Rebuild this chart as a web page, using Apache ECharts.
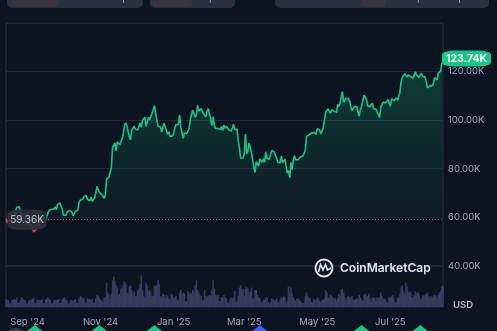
<!DOCTYPE html>
<html><head><meta charset="utf-8">
<script src="https://cdn.jsdelivr.net/npm/echarts@6/dist/echarts.min.js"></script>
<style>html,body{margin:0;padding:0;background:#0d1421;}#c{width:497px;height:331px;}</style>
</head><body><div id="c"></div>
<script>
// ---- data (BTC/USD, daily, 2024-08-14 .. 2025-08-14), values in thousands USD ----
const startDate = [2024, 7, 14]; // UTC y, m(0-based), d
const price2024Aug = [59.36,57.6,58.9,59.5,58.4,59.5,59.0,61.2,60.4,64.1,64.2,64.3,62.9,59.5,59.0,59.4,59.1,58.9];
const price2024Sep = [57.3,59.1,57.5,58.0,56.2,53.9,54.2,54.9,57.0,57.6,57.3,58.1,60.5,60.0,59.2,58.2,60.3,61.7,62.9,63.2,63.3,63.6,63.3,64.3,63.1,65.2,65.8,65.9,65.6,63.3];
const price2024Oct = [60.8,60.6,60.8,62.1,62.1,62.8,62.2,62.1,60.6,60.3,62.5,63.2,62.9,66.1,67.0,67.6,67.4,68.4,68.4,69.0,67.4,67.4,66.7,68.2,66.6,67.0,67.9,69.9,72.7,72.3,70.2];
const price2024Nov = [69.5,69.4,68.7,67.8,69.4,75.6,76.0,76.5,76.7,80.5,88.7,87.9,90.6,87.3,91.1,90.6,89.8,90.5,92.3,94.3,98.0,98.9,97.7,98.0,93.1,91.9,95.9,95.6,97.5,96.4];
const price2024Dec = [97.2,95.9,96.0,98.8,97.0,99.9,99.9,101.2,97.4,96.7,101.2,100.0,101.5,101.4,104.3,106.0,106.1,100.0,97.5,97.8,97.2,95.1,94.7,98.7,99.4,95.8,94.2,95.2,93.4,92.6,93.4];
const price2025Jan = [94.4,96.9,98.1,98.2,98.3,102.1,96.9,95.0,92.5,94.7,94.6,94.5,94.5,96.5,100.5,99.8,104.1,104.4,101.1,102.0,106.1,103.7,104.0,104.8,104.7,102.6,102.1,101.3,103.7,104.7,102.4];
const price2025Feb = [100.7,97.7,101.4,97.9,96.6,96.6,96.6,96.5,96.1,97.4,95.7,97.9,96.6,97.5,97.6,96.1,95.8,95.5,96.6,98.3,96.1,96.6,96.3,91.6,88.7,84.3,84.7,84.4];
const price2025Mar = [86.0,94.3,86.1,87.2,90.6,89.9,86.7,86.2,80.6,78.5,82.9,83.7,81.1,84.0,84.3,82.6,84.1,82.7,86.9,84.2,84.0,83.8,86.1,87.5,87.5,86.9,87.2,84.4,82.6,82.3,82.5];
const price2025Apr = [85.2,82.5,83.1,83.8,83.5,78.2,79.2,76.3,82.6,79.6,83.4,85.3,83.7,84.5,83.7,84.0,84.9,84.4,85.1,85.2,87.5,93.4,93.7,93.9,94.7,94.6,93.8,95.0,94.3,94.2];
const price2025May = [96.5,96.9,95.9,94.3,94.7,96.8,97.0,103.2,102.9,104.6,104.1,102.8,104.2,103.5,103.7,103.5,103.2,106.5,105.6,106.8,109.7,111.7,107.3,107.8,109.0,109.4,108.9,107.8,105.6,103.9,104.6];
const price2025Jun = [105.7,105.8,105.4,104.7,101.6,104.4,105.6,105.8,110.3,110.3,108.7,105.9,106.0,105.5,105.6,107.0,104.6,104.9,104.6,103.3,102.3,101.0,105.4,105.9,107.3,106.9,107.1,107.4,108.4,107.1];
const price2025Jul = [105.7,108.8,109.6,108.0,108.2,109.2,108.3,108.9,111.3,115.9,117.5,117.4,119.1,119.8,117.7,118.6,119.2,117.9,117.9,117.3,117.4,119.9,118.5,118.3,117.6,117.9,119.4,118.0,117.9,117.8,115.8];
const price2025Aug = [113.3,112.5,114.2,115.0,114.1,115.0,117.5,116.7,116.5,119.3,118.7,120.2,123.3,123.74];

const vol2024Aug = [32,30,26,14,16,28,30,34,30,38,16,17,28,40,35,30,29,14];
const vol2024Sep = [15,26,30,28,35,38,17,15,28,27,30,28,32,16,14,30,33,40,35,30,16,15,27,30,28,31,33,17,16,30];
const vol2024Oct = [38,40,30,26,14,15,30,28,25,30,32,16,15,35,45,42,38,35,18,17,36,34,33,30,34,18,17,35,50,45,38];
const vol2024Nov = [30,26,20,38,42,100,60,50,35,55,110,125,105,90,80,50,55,75,78,90,105,95,60,55,85,90,70,55,65,45];
const vol2024Dec = [45,70,75,95,130,70,45,40,100,90,65,70,60,45,45,90,85,90,110,95,45,40,55,50,35,50,45,35,30,55,50];
const vol2025Jan = [35,40,45,30,25,60,70,55,60,55,25,22,65,50,60,55,70,60,90,110,70,60,50,45,25,30,70,45,40,45,50];
const vol2025Feb = [45,70,110,75,50,45,50,25,25,40,40,50,40,35,20,18,30,40,35,38,65,25,20,45,80,90,70,75];
const vol2025Mar = [45,75,85,75,60,65,80,35,35,70,70,50,40,35,20,20,30,30,40,40,20,15,20,35,30,30,25,35,20,20,30];
const vol2025Apr = [40,35,45,40,20,25,85,60,80,55,40,30,25,35,35,30,25,18,15,15,45,60,45,40,35,20,20,35,30,30];
const vol2025May = [40,35,25,20,30,30,35,70,60,40,35,50,45,40,35,35,25,35,55,45,70,75,60,40,30,40,45,40,40,45,30];
const vol2025Jun = [30,30,35,30,50,40,30,25,50,55,45,45,55,35,20,40,40,35,25,40,35,40,60,45,35,35,30,20,20,40];
const vol2025Jul = [40,45,50,35,20,20,35,40,55,80,90,65,55,100,85,60,65,60,40,40,50,65,55,60,55,30,35,50,45,50,55];
const vol2025Aug = [60,45,40,45,40,45,50,45,35,50,60,65,85,90];

const yTicks = [40, 60, 80, 100, 120, 140];
const monthNames = ['Jan','Feb','Mar','Apr','May','Jun','Jul','Aug','Sep','Oct','Nov','Dec'];
const baselinePrice = 59.36;
const lastPrice = 123.74;
const events = [
  {date:'2024-08-22', color:'#3b3f4e'},
  {date:'2024-09-07', color:'#16c784'},
  {date:'2024-10-31', color:'#16c784'},
  {date:'2024-12-16', color:'#16c784'},
  {date:'2025-03-14', color:'#3861fb'},
  {date:'2025-06-07', color:'#16c784'},
  {date:'2025-07-26', color:'#16c784'}
];

const prices = [].concat(price2024Aug,price2024Sep,price2024Oct,price2024Nov,price2024Dec,price2025Jan,price2025Feb,price2025Mar,price2025Apr,price2025May,price2025Jun,price2025Jul,price2025Aug);
const volumes = [].concat(vol2024Aug,vol2024Sep,vol2024Oct,vol2024Nov,vol2024Dec,vol2025Jan,vol2025Feb,vol2025Mar,vol2025Apr,vol2025May,vol2025Jun,vol2025Jul,vol2025Aug);
const dates = [];
const t0 = Date.UTC(startDate[0], startDate[1], startDate[2]);
for (let i = 0; i < prices.length; i++) {
  const d = new Date(t0 + i * 86400000);
  dates.push(d.toISOString().slice(0, 10));
}

const FONT = 'Inter, "Noto Sans", sans-serif';
const labelColor = '#a1a7bb';

const chart = echarts.init(document.getElementById('c'), null, {renderer: 'canvas'});

function showLabel(index, value) {
  const m = +value.slice(5, 7), d = +value.slice(8, 10);
  return d === 1 && m % 2 === 1;
}
function fmtLabel(value) {
  const m = +value.slice(5, 7), y = value.slice(2, 4);
  return monthNames[m - 1] + " '" + y;
}

const option = {
  backgroundColor: '#0d1421',
  animation: false,
  textStyle: {fontFamily: FONT},
  grid: [
    {left: 6, right: 54, top: 23, height: 242.8, show: true, borderColor: '#272c39', borderWidth: 1, backgroundColor: 'transparent'},
    {left: 6, right: 54, top: 265.8, bottom: 24, show: true, borderColor: '#272c39', borderWidth: 1, backgroundColor: 'transparent'}
  ],
  xAxis: [
    {type: 'category', gridIndex: 0, data: dates, boundaryGap: false, axisLine: {show: false}, axisTick: {show: false}, axisLabel: {show: false}, splitLine: {show: false}},
    {type: 'category', gridIndex: 1, data: dates, boundaryGap: false, axisLine: {show: false}, axisTick: {show: false},
      axisLabel: {show: true, interval: showLabel, formatter: fmtLabel, color: labelColor, fontSize: 9.5, fontFamily: FONT, margin: 10, hideOverlap: false},
      splitLine: {show: false}}
  ],
  yAxis: [
    {type: 'value', gridIndex: 0, position: 'right', min: yTicks[0], max: yTicks[yTicks.length - 1], interval: 20,
      axisLine: {show: false}, axisTick: {show: false},
      axisLabel: {color: labelColor, fontSize: 9.5, fontFamily: FONT, margin: 5, showMaxLabel: false,
        formatter: v => (v >= 140 ? '' : v.toFixed(2) + 'K')},
      splitLine: {show: true, lineStyle: {color: '#222835', width: 1}}},
    {type: 'value', gridIndex: 1, min: 0, max: 170, show: false, splitLine: {show: false}}
  ],
  visualMap: {
    show: false, type: 'piecewise', seriesIndex: 0, dimension: 1,
    pieces: [{gte: 0, lt: baselinePrice, color: '#ea3943'}, {gte: baselinePrice, lte: 1000, color: '#16c784'}]
  },
  series: [
    {
      type: 'line', xAxisIndex: 0, yAxisIndex: 0, data: prices, showSymbol: false, symbol: 'none',
      lineStyle: {width: 1.6},
      areaStyle: {
        origin: baselinePrice,
        color: new echarts.graphic.LinearGradient(0, 0, 0, 1, [
          {offset: 0, color: 'rgba(22,199,132,0.32)'},
          {offset: 1, color: 'rgba(22,199,132,0.02)'}
        ])
      },
      z: 3,
      markLine: {
        silent: true, symbol: 'none', animation: false,
        lineStyle: {color: '#6b7180', type: [1, 2], width: 1},
        label: {show: false},
        data: [{yAxis: baselinePrice}]
      },
      markPoint: {
        silent: true, animation: false,
        data: [
          {coord: [dates[0], baselinePrice], symbol: 'roundRect', symbolSize: [39, 20], symbolOffset: [21, 1],
            itemStyle: {color: 'rgba(44,48,61,0.93)'},
            label: {show: true, position: 'inside', formatter: baselinePrice.toFixed(2) + 'K', color: '#c6c9d2', fontSize: 10, fontFamily: FONT}},
          {coord: [dates[dates.length - 1], lastPrice], symbol: 'roundRect', symbolSize: [49, 16], symbolOffset: [23.5, -4],
            itemStyle: {color: '#16c784'},
            label: {show: true, position: 'inside', formatter: lastPrice.toFixed(2) + 'K', color: '#ffffff', fontSize: 10.5, fontWeight: 'bold', fontFamily: FONT}}
        ]
      }
    },
    {
      type: 'bar', xAxisIndex: 1, yAxisIndex: 1, data: volumes, barWidth: 1.6,
      itemStyle: {color: '#363d5e'}, z: 1
    }
  ],
  graphic: [
    {type: 'rect', shape: {x: 7, y: -8, width: 136, height: 16, r: 5}, style: {fill: '#2c2f3f'}},
    {type: 'rect', shape: {x: 12, y: -8, width: 47, height: 15, r: 4}, style: {fill: '#39353f'}},
    {type: 'rect', shape: {x: 150, y: -8, width: 85, height: 16, r: 5}, style: {fill: '#2c2f3f'}},
    {type: 'rect', shape: {x: 153, y: -8, width: 39, height: 15, r: 4}, style: {fill: '#39353f'}},
    {type: 'rect', shape: {x: 275, y: -8, width: 214, height: 16, r: 5}, style: {fill: '#2c2f3f'}},
    {type: 'rect', shape: {x: 362, y: -8, width: 24, height: 15, r: 4}, style: {fill: '#39353f'}},
    {type: 'rect', shape: {x: 123, y: 0, width: 1, height: 3}, style: {fill: '#8a8fa0'}},
    {type: 'rect', shape: {x: 210, y: 0, width: 1, height: 3}, style: {fill: '#8a8fa0'}},
    {type: 'rect', shape: {x: 418, y: 0, width: 1, height: 3}, style: {fill: '#8a8fa0'}},
    {type: 'rect', shape: {x: 459, y: 0, width: 1, height: 3}, style: {fill: '#8a8fa0'}},
    {type: 'circle', shape: {cx: 324, cy: 268, r: 8.5}, style: {fill: 'none', stroke: '#e4e6ec', lineWidth: 1.8}, z: 10},
    {type: 'polyline', shape: {points: [[318.5, 272], [320.5, 264.5], [323, 270], [325.5, 264.5], [327.5, 270], [331, 268]]}, style: {fill: 'none', stroke: '#e4e6ec', lineWidth: 1.6}, z: 10},
    {type: 'text', x: 340, y: 268, style: {text: 'CoinMarketCap', fill: '#e4e6ec', font: '600 12px ' + FONT, textVerticalAlign: 'middle', textAlign: 'left'}, z: 10},
    {type: 'text', x: 453, y: 305.5, style: {text: 'USD', fill: '#b9bdca', font: '600 9.5px ' + FONT, textVerticalAlign: 'middle', textAlign: 'left'}, z: 10}
  ]
};
chart.setOption(option);

const evGraphics = [];
events.forEach(ev => {
  const x = chart.convertToPixel({xAxisIndex: 1}, ev.date);
  evGraphics.push({type: 'circle', shape: {cx: x, cy: 340, r: 12}, style: {fill: ev.color}, z: 20});
  if (ev.color !== '#3b3f4e') {
    evGraphics.push({type: 'polygon', shape: {points: [[x - 6, 330], [x, 325], [x + 6, 330]]}, style: {fill: ev.color}, z: 20});
  }
});
chart.setOption({graphic: option.graphic.concat(evGraphics)});
</script>
</body></html>
